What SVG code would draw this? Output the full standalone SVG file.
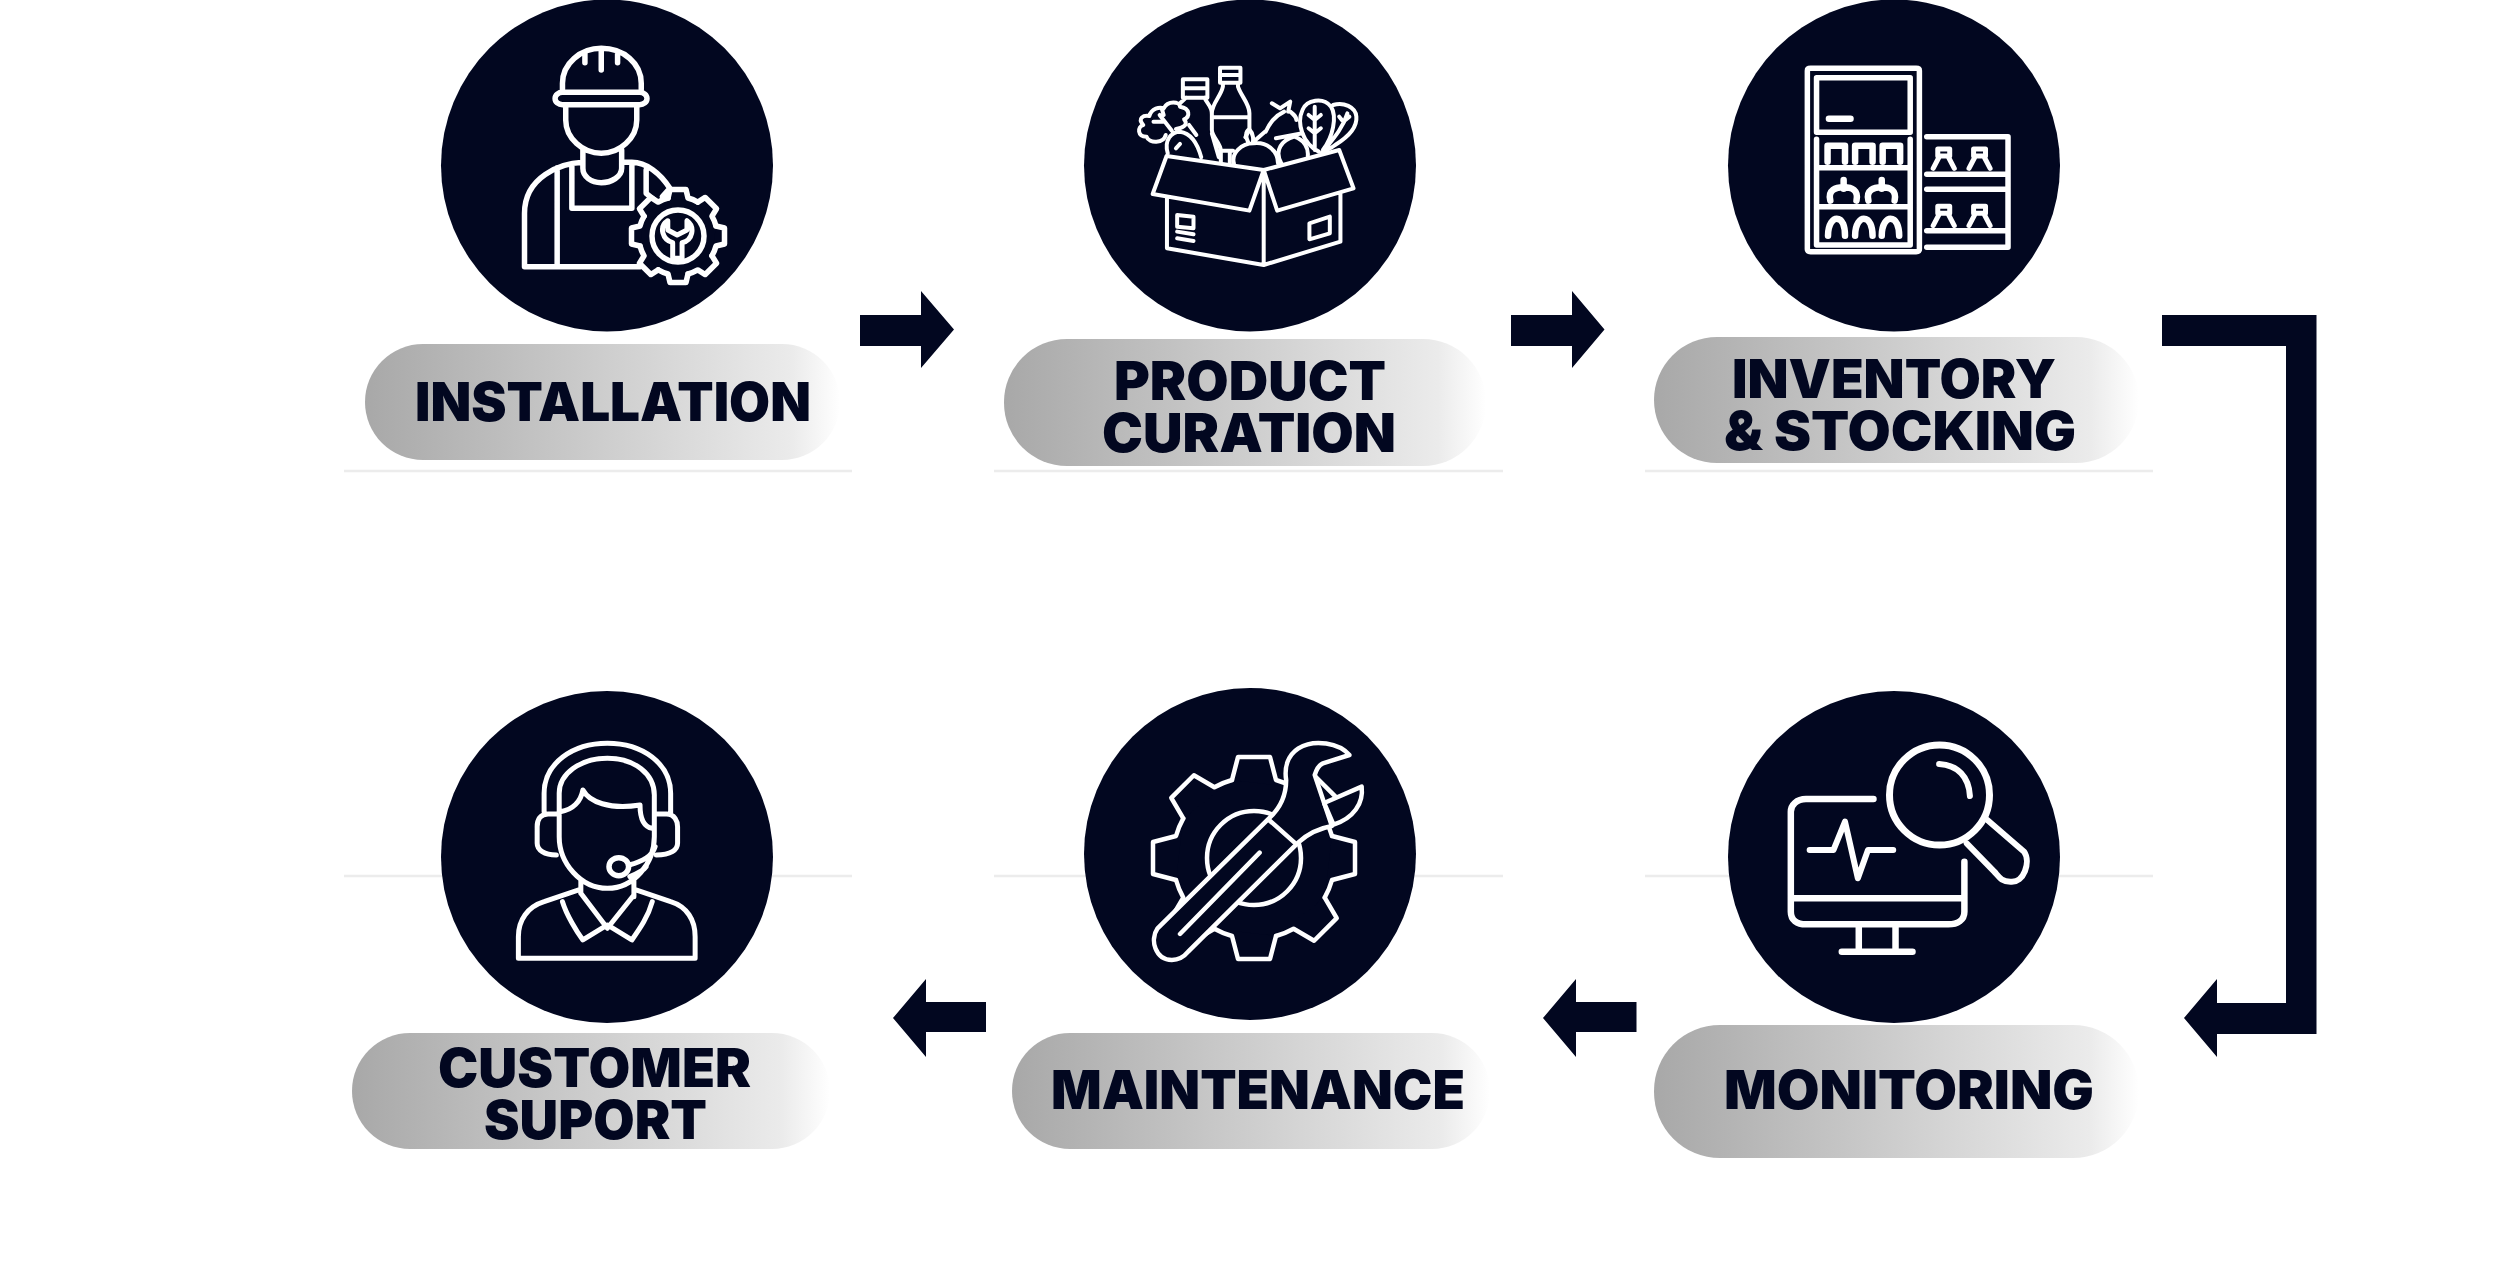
<svg xmlns="http://www.w3.org/2000/svg" xmlns:xlink="http://www.w3.org/1999/xlink" width="2500" height="1261" viewBox="0 0 2500 1261">
<style>
.disc{fill:#020720}
.sep{stroke:#ececec;stroke-width:2.5;fill:none}
.pill{fill:url(#pg)}
.lab{font-family:"Inter","Liberation Sans",sans-serif;font-weight:900;font-size:54px;fill:#020720}
.ico{fill:none;stroke:#fff;stroke-linejoin:round;stroke-linecap:round;vector-effect:non-scaling-stroke}
.fd{fill:#020720}
.arrow{fill:#020720}
</style>
<defs>
<linearGradient id="pg" x1="0" y1="0" x2="1" y2="0"><stop offset="0" stop-color="#a8a8a8"/><stop offset=".9" stop-color="#ebebeb"/><stop offset="1" stop-color="#ffffff"/></linearGradient>
<path id="t1" class="ico fd" d="M-10,-38 L-8,-46.5 H8 L10,-38 A39,39 0 0 1 19.8,-33.9"/>
<path id="t2" class="ico fd" d="M-22,-78 L-16,-101 H16 L22,-78 A81,81 0 0 1 39.6,-70.7"/>
<path id="figure" class="ico" d="M692 447 H718 V468 H692 Z M696 468 L682 505 M714 468 L728 505"/>
</defs>
<rect width="2500" height="1261" fill="#fff"/>
<g id="separators">
<path class="sep" d="M344 471H852M994 471H1503M1645 471H2153M344 876H852M994 876H1503M1645 876H2153"/>
</g>
<g id="connectors">
<path class="arrow" d="M860 315H921V291L954 329.5L921 368V346H860Z"/>
<path class="arrow" d="M1511 315H1572V291L1604.500 329.5L1572 368V346H1511Z"/>
<path class="arrow" d="M2162 315H2316.500V1034H2217V1057L2184 1018L2217 979V1003H2286V346H2162Z"/>
<path class="arrow" d="M1636.500 1002H1576V979L1543 1018L1576 1057V1032H1636.500Z"/>
<path class="arrow" d="M986 1002H926V979L893 1018L926 1057V1032H986Z"/>
</g>
<g id="node-installation">
<circle class="disc" cx="607" cy="165.500" r="166"/>
<g transform="translate(340,0) scale(.4082,.3333)">
<path class="ico" style="stroke-width:5.500" d="M545 268V250C545 190 590 145 640 145C695 145 738 190 738 250V268M600 160V188M640 155V210M680 160V188"/>
<rect class="ico" style="stroke-width:5.500" x="527" y="277" width="225" height="37" rx="18"/>
<path class="ico" style="stroke-width:5.500" d="M553 315V360C553 415 595 460 640 460C685 460 727 415 727 360V315M595 450V505C595 530 615 548 640 548C665 548 690 530 690 505V450M595 487C540 490 452 530 452 640V800H735M690 487H715C750 487 785 520 808 565L790 590M532 503V795M568 497V625H715V497M750 510V580L770 600"/>
</g>
<g id="gear-a" transform="translate(678,236)">
<circle class="fd" r="39"/>
<use xlink:href="#t1" style="stroke-width:5.500"/><use xlink:href="#t1" transform="rotate(45)" style="stroke-width:5.500"/><use xlink:href="#t1" transform="rotate(90)" style="stroke-width:5.500"/><use xlink:href="#t1" transform="rotate(135)" style="stroke-width:5.500"/><use xlink:href="#t1" transform="rotate(180)" style="stroke-width:5.500"/><use xlink:href="#t1" transform="rotate(225)" style="stroke-width:5.500"/><use xlink:href="#t1" transform="rotate(270)" style="stroke-width:5.500"/><use xlink:href="#t1" transform="rotate(315)" style="stroke-width:5.500"/>
<circle class="ico" style="stroke-width:5.500" r="26"/>
</g>
<path class="ico" style="stroke-width:5" transform="translate(340,0) scale(.4082,.3333)" d="M803 662C780 680 790 720 815 728V775H838V728C865 720 870 680 850 662V690L826 705L803 690Z"/>
<rect class="pill" x="365" y="344" width="475" height="116" rx="58"/>
<text class="lab" x="415" y="421" textLength="396" lengthAdjust="spacingAndGlyphs">INSTALLATION</text>
</g>
<g id="node-product-curation">
<circle class="disc" cx="1250" cy="165.500" r="166"/>
<g transform="translate(980,0) scale(.4082,.3333)">
<path class="ico" style="stroke-width:4" d="M457 468L695 510L660 632L423 582ZM695 510L880 450L915 565L728 632ZM458 590V745L695 795L883 725V580M695 510V795M483 645L523 650V685L483 680ZM483 695L523 703M483 715L523 723M807 670L857 650V700L807 718Z"/>
<path class="ico" style="stroke-width:4" d="M497 238H557V293H497ZM497 265H557M588 203H638V248H588ZM588 225H638M595 248V260C590 290 568 310 568 340V390C568 410 590 430 590 452V485M632 248V260C640 290 660 310 660 340V390L650 412M568 352H660M590 452H620M612 452V490M505 293L490 310M550 293C555 310 570 320 568 345M568 400L585 472"/>
<path class="ico" style="stroke-width:4" d="M512 375L530 405M460 460C450 420 470 395 490 395C520 400 535 440 542 472M480 445L490 432M440 345L470 392M425 365L450 365M445 325L450 345"/>
<path class="ico" style="stroke-width:4" d="M455 405C450 430 415 432 408 410C385 410 385 380 400 375C385 355 400 345 415 348C420 325 440 320 450 325C460 300 490 305 490 320C515 325 515 350 500 358C512 375 495 385 480 387"/>
<path class="ico" style="stroke-width:4" d="M622 490C615 460 640 430 670 430C700 425 730 450 730 490M658 430C650 410 650 395 660 388C670 400 670 420 668 430M670 425L698 395M738 490C720 450 740 420 770 410C795 420 805 445 803 468M725 415L790 400M700 395C710 370 720 350 745 335M715 310L735 325L760 305L755 335M760 335C770 345 775 350 775 360"/>
<path class="ico" style="stroke-width:4" d="M830 455C790 430 775 370 790 330C800 300 840 290 860 320C875 350 865 410 840 450M820 320V450M805 345L820 360L835 345M805 385L820 400L835 385M865 315C890 305 920 320 922 350C925 390 890 420 870 435C860 445 850 450 838 458M900 340C890 380 870 410 850 440M880 350L890 365L905 350"/>
</g>
<rect class="pill" x="1004" y="339" width="482" height="127" rx="63"/>
<text class="lab"><tspan x="1114" y="400" textLength="272" lengthAdjust="spacingAndGlyphs">PRODUCT</tspan><tspan x="1102" y="452" textLength="294" lengthAdjust="spacingAndGlyphs">CURATION</tspan></text>
</g>
<g id="node-inventory-stocking">
<circle class="disc" cx="1894" cy="165.500" r="166"/>
<g transform="translate(1620,0) scale(.4592,.3333)">
<path class="ico" style="stroke-width:5.500" d="M415 205H645Q652 205 652 212V748Q652 755 645 755H415Q408 755 408 748V212Q408 205 415 205ZM428 233H632V397H428ZM428 418V735H632V418M428 503H632M428 620H632"/>
<path class="ico" style="stroke-width:6.500" d="M455 356H502M452 485V437H490V485M512 485V437H550V485M572 485V437H610V485M458 602C452 570 470 562 487 562C505 562 520 570 515 602M487 540V566M541 602C535 570 553 562 570 562C588 562 603 570 598 602M570 540V566M453 707C453 670 465 656 472 656C485 656 490 680 490 707M512 707C512 670 524 656 531 656C544 656 550 680 550 707M570 707C570 670 582 656 589 656C602 656 608 680 608 707"/>
<path class="ico" style="stroke-width:5.500" d="M668 410H845V742H668M668 523H845M668 568H845M668 692H845"/>
<use xlink:href="#figure" style="stroke-width:5"/><use xlink:href="#figure" x="78" style="stroke-width:5"/><use xlink:href="#figure" y="172" style="stroke-width:5"/><use xlink:href="#figure" x="78" y="172" style="stroke-width:5"/>
</g>
<rect class="pill" x="1654" y="337" width="485" height="126" rx="63"/>
<text class="lab"><tspan x="1732" y="398" textLength="324" lengthAdjust="spacingAndGlyphs">INVENTORY</tspan><tspan x="1724" y="450" textLength="352" lengthAdjust="spacingAndGlyphs">&amp; STOCKING</tspan></text>
</g>
<g id="node-monitoring">
<circle class="disc" cx="1894" cy="857" r="166"/>
<g transform="translate(1620,680) scale(.4592,.3333)">
<path class="ico" style="stroke-width:6.500" d="M552 357H405C385 357 372 375 372 395V695C372 720 385 733 405 733H715C735 733 750 720 750 695V545M372 655H750M520 740V815M600 740V815M483 815H637"/>
<path class="ico" style="stroke-width:6" d="M413 510H465L490 425L518 595L540 510H595M800 420L880 515C895 545 880 610 850 605C830 605 825 590 815 575L755 490M695 252C735 255 760 290 762 348"/>
</g>
<circle class="ico" style="stroke-width:7" cx="1939.500" cy="795" r="50"/>
<rect class="pill" x="1654" y="1025" width="485" height="133" rx="66"/>
<text class="lab" x="1724" y="1109" textLength="370" lengthAdjust="spacingAndGlyphs">MONITORING</text>
</g>
<g id="node-maintenance">
<circle class="disc" cx="1250" cy="854" r="166"/>
<g transform="translate(1254,858)">
<circle class="fd" r="78"/>
<use xlink:href="#t2" style="stroke-width:4.500"/><use xlink:href="#t2" transform="rotate(45)" style="stroke-width:4.500"/><use xlink:href="#t2" transform="rotate(90)" style="stroke-width:4.500"/><use xlink:href="#t2" transform="rotate(135)" style="stroke-width:4.500"/><use xlink:href="#t2" transform="rotate(180)" style="stroke-width:4.500"/><use xlink:href="#t2" transform="rotate(225)" style="stroke-width:4.500"/><use xlink:href="#t2" transform="rotate(270)" style="stroke-width:4.500"/><use xlink:href="#t2" transform="rotate(315)" style="stroke-width:4.500"/>
<circle class="ico" style="stroke-width:4.500" r="47"/>
</g>
<g transform="translate(980,680) scale(.4082,.3333)">
<path class="ico fd" style="stroke-width:4.500" d="M708 415L435 745C415 780 430 840 470 840C490 840 500 830 510 815L780 487C800 465 830 445 862 438L820 285C825 265 830 255 840 250L905 225C880 190 820 175 780 205C755 225 745 260 750 300C750 350 735 385 708 415Z"/>
<path class="ico fd" style="stroke-width:4.500" d="M843 369L935 320C940 370 915 415 866 434Z"/>
<path class="ico" style="stroke-width:4.500" d="M685 518L490 762M770 487L708 420"/>
</g>
<rect class="pill" x="1012" y="1033" width="478" height="116" rx="58"/>
<text class="lab" x="1051" y="1109" textLength="414" lengthAdjust="spacingAndGlyphs">MAINTENANCE</text>
</g>
<g id="node-customer-support">
<circle class="disc" cx="607" cy="857" r="166"/>
<g transform="translate(340,680) scale(.4082,.3333)">
<path class="ico" style="stroke-width:5" d="M500 395V340C500 250 570 190 655 190C740 190 810 250 810 340V400M537 380V470C537 550 590 625 655 625C720 625 770 550 770 470V350C772 280 720 235 655 235C590 235 537 280 537 340V380M540 395C570 390 590 365 595 330C610 365 660 390 735 375C735 410 740 440 765 445M530 402H510C490 402 483 420 483 440V490C483 510 500 525 530 525M775 402H800C820 402 827 425 827 440V490C827 510 810 525 775 525M708 555C740 545 765 530 772 500M710 590C730 580 745 570 750 560M590 600V640M720 600V650M590 640L655 745L720 645M545 665C555 705 580 755 595 780L655 735L715 780C735 745 755 710 765 665M585 630L500 665C460 680 437 720 437 770V835H870V770C870 720 850 680 810 665L725 630"/>
<ellipse class="ico" style="stroke-width:5.500" cx="683" cy="560" rx="24" ry="27"/>
</g>
<rect class="pill" x="352" y="1033" width="478" height="116" rx="58"/>
<text class="lab"><tspan x="438" y="1087" textLength="313" lengthAdjust="spacingAndGlyphs">CUSTOMER</tspan><tspan x="484" y="1139" textLength="223" lengthAdjust="spacingAndGlyphs">SUPORT</tspan></text>
</g>
</svg>
